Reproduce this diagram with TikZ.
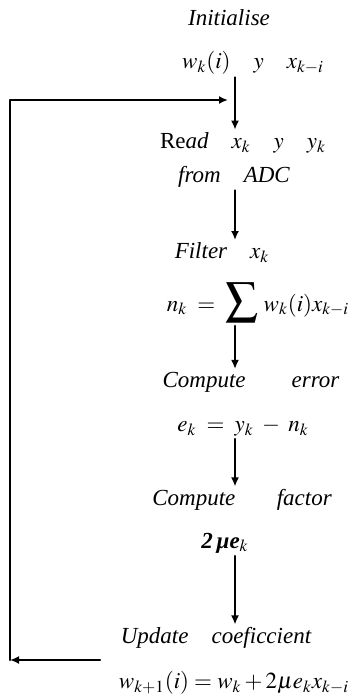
\documentclass[tikz,border=0pt]{standalone}
\usepackage{mathptmx}
\usepackage{fontspec}
\setmainfont{Liberation Serif}
\usetikzlibrary{arrows.meta,positioning}
\tikzset{
    every picture/.style={line cap=round,line join=round},
    steptext/.style={inner sep=0pt,outer sep=1.5pt,
      font=\fontsize{11.5}{14}\selectfont\itshape},
    flowarrow/.style={-{Latex[length=4.5pt,width=4pt]},line width=1.3pt},
    flowline/.style={line width=1.3pt}
}

\begin{document}
\begin{tikzpicture}[x=0.5pt,y=-0.5pt]
  \useasboundingbox (0,0) rectangle (356,694);
  \coordinate (spine) at (235,0);

  \node[steptext] (init) at (229,18) {Initialise};
  \node[steptext] (initvars) at (253,63) {$w_k(i)$\quad $y$\quad $x_{k-i}$};
  \node[steptext] (read) at (243,143) {\upshape Re\textit{ad}\quad $x_k$\quad $y$\quad $y_k$};
  \node[steptext] (adc) at (234,177) {from\quad ADC};
  \node[steptext] (filter) at (222,253) {Filter\quad $x_k$};
  \node[steptext] (sum) at (258,303)
    {$n_k\;=\;\mathop{\scalebox{1.4}{$\displaystyle\sum$}}\,w_k(i)x_{k-i}$};
  \node[steptext] (cerror) at (251,382) {Compute\hspace{2em}error};
  \node[steptext] (ek) at (243,427) {$e_k\;=\;y_k\;-\;n_k$};
  \node[steptext] (cfactor) at (242,500) {Compute\hspace{1.8em}factor};
  \node[steptext] (mu) at (225,543) {\bfseries 2\,μe$_k$};
  \node[steptext] (update) at (216,638) {Update\quad coeficcient};
  \node[steptext] (wupd) at (234,683) {$w_{k+1}(i)=w_k+2\mu e_kx_{k-i}$};

  \draw[flowarrow] (initvars.south -| spine) -- (read.north -| spine);
  \draw[flowarrow] (adc.south -| spine) -- (filter.north -| spine);
  \draw[flowarrow] (sum.south -| spine) -- (cerror.north -| spine);
  \draw[flowarrow] (ek.south -| spine) -- (cfactor.north -| spine);
  \draw[flowarrow] (mu.south -| spine) -- (update.north -| spine);

  % feedback loop
  \coordinate (fbstart) at (100,660);
  \coordinate (fbcorner) at (10,660);
  \coordinate (fbend) at (228,100);
  \draw[flowarrow] (fbstart) -- (fbcorner);
  \draw[flowarrow] (fbcorner) |- (fbend);
\end{tikzpicture}
\end{document}
